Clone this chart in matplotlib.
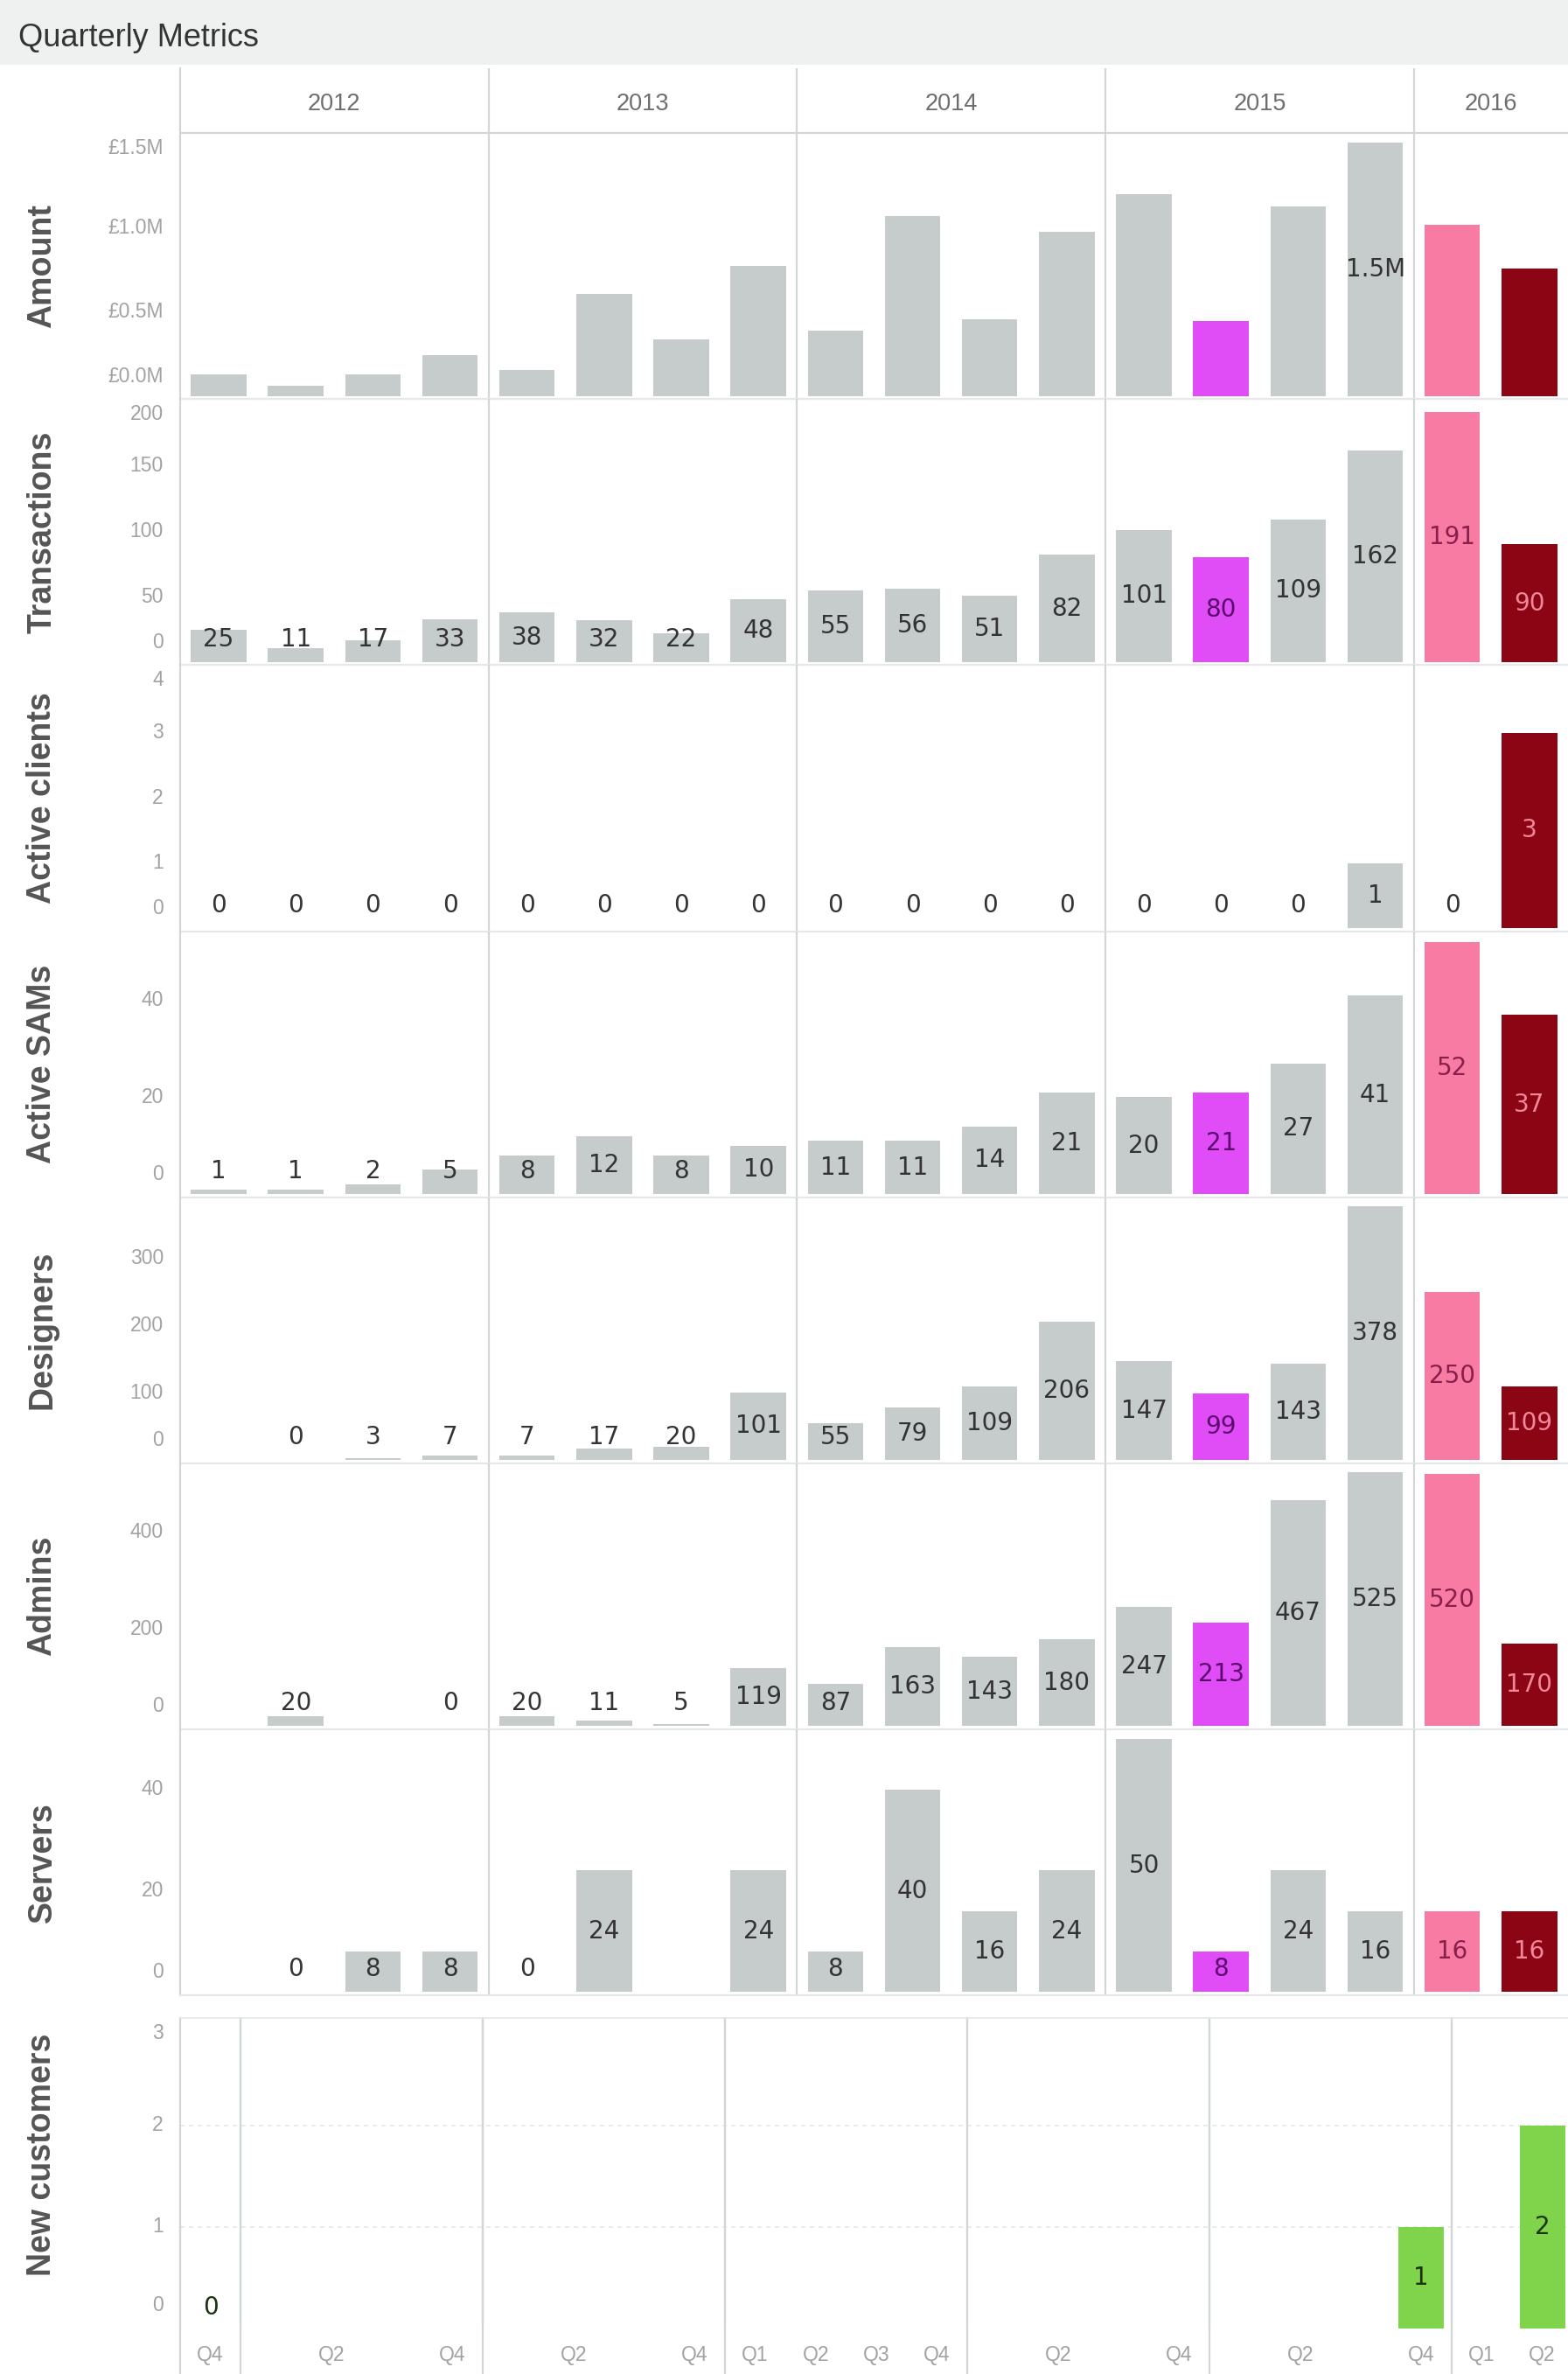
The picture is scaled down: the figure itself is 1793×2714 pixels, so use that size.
import matplotlib
matplotlib.use("Agg")
import matplotlib.pyplot as plt
from matplotlib.patches import Rectangle

# ------------------------------------------------------------------
# Quarterly metrics, one bar per quarter (2012 Q1 - 2016 Q2)
# ------------------------------------------------------------------
years = ["2012"] * 4 + ["2013"] * 4 + ["2014"] * 4 + ["2015"] * 4 + ["2016"] * 2
quarters = ["Q1", "Q2", "Q3", "Q4"] * 4 + ["Q1", "Q2"]

amount = [130000, 63000, 130000, 245000, 158000, 610000, 340000, 777000,
          390000, 1070000, 460000, 980000, 1200000, 445000, 1130000, 1510000,
          1020000, 760000]
transactions = [25, 11, 17, 33, 38, 32, 22, 48, 55, 56, 51, 82,
                101, 80, 109, 162, 191, 90]
active_clients = [0, 0, 0, 0, 0, 0, 0, 0, 0, 0, 0, 0, 0, 0, 0, 1, 0, 3]
active_sams = [1, 1, 2, 5, 8, 12, 8, 10, 11, 11, 14, 21, 20, 21, 27, 41, 52, 37]
designers = [None, 0, 3, 7, 7, 17, 20, 101, 55, 79, 109, 206,
             147, 99, 143, 378, 250, 109]
admins = [None, 20, None, 0, 20, 11, 5, 119, 87, 163, 143, 180,
          247, 213, 467, 525, 520, 170]
servers = [None, 0, 8, 8, 0, 24, None, 24, 8, 40, 16, 24,
           50, 8, 24, 16, 16, 16]

# Amount shows a value label on this quarter only
amount_labelled = [("2015", "Q4")]

# New customers run on their own quarter axis (2010 Q4 - 2016 Q2)
nc_years = (["2010"] + ["2011"] * 4 + ["2012"] * 4 + ["2013"] * 4
            + ["2014"] * 4 + ["2015"] * 4 + ["2016"] * 2)
nc_quarters = ["Q4"] + ["Q1", "Q2", "Q3", "Q4"] * 5 + ["Q1", "Q2"]
new_customers = [0] + [None] * 19 + [1, None, 2]
nc_tick_labels = ["Q4", "", "Q2", "", "Q4", "", "Q2", "", "Q4",
                  "Q1", "Q2", "Q3", "Q4", "", "Q2", "", "Q4",
                  "", "Q2", "", "Q4", "Q1", "Q2"]

# ------------------------------------------------------------------
# Styling
# ------------------------------------------------------------------
GREY_BAR = "#c6cccb"
GREY_TEXT = "#333333"
HIGHLIGHT_BAR = {("2015", "Q2"): "#e04cf5",
                 ("2016", "Q1"): "#f77ba3",
                 ("2016", "Q2"): "#8c0514"}
HIGHLIGHT_TEXT = {("2015", "Q2"): "#5c0a70",
                  ("2016", "Q1"): "#8a1f4c",
                  ("2016", "Q2"): "#f0889a"}
GREEN_BAR = "#7fd44b"
GREEN_TEXT = "#1c330c"
RULE = "#d3d6d6"
FAINT = "#e6e8e8"
TICK_COL = "#a2a2a2"
TITLE_COL = "#555555"

REGULAR = ["Liberation Sans", "DejaVu Sans"]
LABEL_FONT = ["DejaVu Sans"]

W, H = 1793, 2714
GRID = 1036.0            # layout grid width
S = W / GRID


def fx(px):
    return px * S / W


def fy(py):
    return 1 - py * S / H


fig = plt.figure(figsize=(W / 100, H / 100), dpi=100)
fig.patch.set_facecolor("white")

# title band
fig.patches.append(Rectangle((0, fy(43)), 1, 1 - fy(43), transform=fig.transFigure,
                             facecolor="#eff1f1", edgecolor="none", zorder=0))
fig.text(fx(12), fy(25), "Quarterly Metrics", fontsize=26, color="#333333",
         family=REGULAR, ha="left", va="center")

LEFT = 119.0
PANE_TOP0 = 88.0
PANE_H = 175.7
ZERO_GAP = 2.0           # zero line sits this far above the pane bottom
LBL_MIN = 15.0           # minimum label centre height above the zero line
TICK_BOTTOM = 15.0
TICK_TOP = 10.0


def year_breaks(yrs):
    return [i - 0.5 for i in range(1, len(yrs)) if yrs[i] != yrs[i - 1]]


def style_axes(ax, n, yrs):
    ax.set_xlim(-0.5, n - 0.5)
    ax.set_xticks([])
    ax.set_yticks([])
    ax.set_facecolor("none")
    for side in ("top", "right"):
        ax.spines[side].set_visible(False)
    ax.spines["left"].set_color(RULE)
    ax.spines["left"].set_linewidth(1.6)
    ax.spines["bottom"].set_color(FAINT)
    ax.spines["bottom"].set_linewidth(1.6)
    for b in year_breaks(yrs):
        ax.axvline(b, color=RULE, lw=1.6, zorder=1)


def tick_labels(ax, ticks, fmt, lo, hi, pane_px):
    for t in ticks:
        frac = (t - lo) / (hi - lo)
        frac = min(max(frac, TICK_BOTTOM / pane_px), 1 - TICK_TOP / pane_px)
        ax.text(-11.0 / (GRID - LEFT), frac, fmt(t), transform=ax.transAxes,
                ha="right", va="center", fontsize=16.5, color=TICK_COL,
                family=REGULAR)


def bar_colours(yrs, qs):
    cols, tcols = [], []
    for key in zip(yrs, qs):
        cols.append(HIGHLIGHT_BAR.get(key, GREY_BAR))
        tcols.append(HIGHLIGHT_TEXT.get(key, GREY_TEXT))
    return cols, tcols


# header row with year names
hdr = fig.add_axes([fx(LEFT), fy(PANE_TOP0), 1 - fx(LEFT), (PANE_TOP0 - 45) * S / H])
style_axes(hdr, len(years), years)
hdr.spines["bottom"].set_color(RULE)
hdr.set_ylim(0, 1)
for y in dict.fromkeys(years):
    idx = [i for i, v in enumerate(years) if v == y]
    hdr.text(sum(idx) / len(idx), 0.45, y, ha="center", va="center",
             fontsize=19.5, color="#6e6e6e", family=REGULAR)

fmt_int = lambda v: f"{v:g}"
panels = [
    ("Amount", amount, [0, 500000, 1000000, 1500000],
     lambda v: f"£{v / 1e6:.1f}M", 1.565e6),
    ("Transactions", transactions, [0, 50, 100, 150, 200], fmt_int, 201),
    ("Active clients", active_clients, [0, 1, 2, 3, 4], fmt_int, 4.04),
    ("Active SAMs", active_sams, [0, 20, 40], fmt_int, 54.3),
    ("Designers", designers, [0, 100, 200, 300], fmt_int, 391),
    ("Admins", admins, [0, 200, 400], fmt_int, 543),
    ("Servers", servers, [0, 20, 40], fmt_int, 51.9),
]

cols, tcols = bar_colours(years, quarters)
xs = list(range(len(quarters)))

for p, (name, vals, ticks, fmt, hi) in enumerate(panels):
    top = PANE_TOP0 + p * PANE_H
    ax = fig.add_axes([fx(LEFT), fy(top + PANE_H), 1 - fx(LEFT), PANE_H * S / H])
    style_axes(ax, len(quarters), years)
    usable = PANE_H - ZERO_GAP
    lo = -ZERO_GAP / usable * hi
    ax.set_ylim(lo, hi)

    bx = [x for x, v in zip(xs, vals) if v is not None]
    bh = [v for v in vals if v is not None]
    bc = [c for c, v in zip(cols, vals) if v is not None]
    ax.bar(bx, bh, width=0.72, color=bc, zorder=2, linewidth=0)

    min_y = hi * LBL_MIN / usable
    for x, v, key, tc in zip(xs, vals, zip(years, quarters), tcols):
        if v is None:
            continue
        if name == "Amount":
            if key not in amount_labelled:
                continue
            txt = f"{v / 1e6:.1f}M"
        else:
            txt = f"{v:g}"
        # an empty bar leaves its label on the white background
        colour = tc if v > 0 else GREY_TEXT
        ax.text(x, max(v / 2, min_y), txt, ha="center", va="center",
                fontsize=20, color=colour, family=LABEL_FONT, zorder=3)

    tick_labels(ax, ticks, fmt, lo, hi, PANE_H)
    fig.text(fx(28), fy(top + PANE_H / 2), name, rotation=90, ha="center",
             va="center", fontsize=27, color=TITLE_COL, family=REGULAR,
             fontweight="bold")

# ------------------------------------------------------------------
# New customers panel
# ------------------------------------------------------------------
NC_TOP, NC_BASE = 1333.0, 1538.0
nc_h = NC_BASE - NC_TOP
nc_q_px = 40.0
nc_w = nc_q_px * len(nc_quarters)
ax = fig.add_axes([fx(LEFT), fy(NC_BASE), nc_w * S / W, nc_h * S / H])
style_axes(ax, len(nc_quarters), nc_years)
ax.spines["bottom"].set_visible(False)
ax.spines["top"].set_visible(True)
ax.spines["top"].set_color(FAINT)
ax.spines["top"].set_linewidth(1.2)
ax.spines["left"].set_bounds(0, 1)
hi = 3.06
ax.set_ylim(0, hi)
for g in (1, 2):
    ax.axhline(g, color=FAINT, lw=1.2, ls=(0, (3, 3)), zorder=0)
# year rules run down through the quarter labels
for b in [-0.5] + year_breaks(nc_years):
    ax.axvline(b, ymin=-(1568 - NC_BASE) / nc_h, ymax=1, color=RULE, lw=1.6,
               clip_on=False, zorder=1)

nx = [i for i, v in enumerate(new_customers) if v is not None]
nv = [v for v in new_customers if v is not None]
ax.bar(nx, nv, width=0.75, color=GREEN_BAR, zorder=2, linewidth=0)
for x, v in zip(nx, nv):
    ax.text(x, max(v / 2, hi * 14 / nc_h), f"{v:g}", ha="center", va="center",
            fontsize=20, color=GREEN_TEXT, family=LABEL_FONT, zorder=3)
tick_labels(ax, [0, 1, 2, 3], fmt_int, 0, hi, nc_h)
for i, lab in enumerate(nc_tick_labels):
    if lab:
        ax.text(i, -18 / nc_h, lab, transform=ax.get_xaxis_transform(),
                ha="center", va="center", fontsize=16.5, color=TICK_COL,
                family=REGULAR)
fig.text(fx(28), fy((NC_TOP + NC_BASE) / 2 - 12), "New customers", rotation=90,
         ha="center", va="center", fontsize=27, color=TITLE_COL, family=REGULAR,
         fontweight="bold")

fig.savefig("out.png", dpi=100, facecolor="white")
